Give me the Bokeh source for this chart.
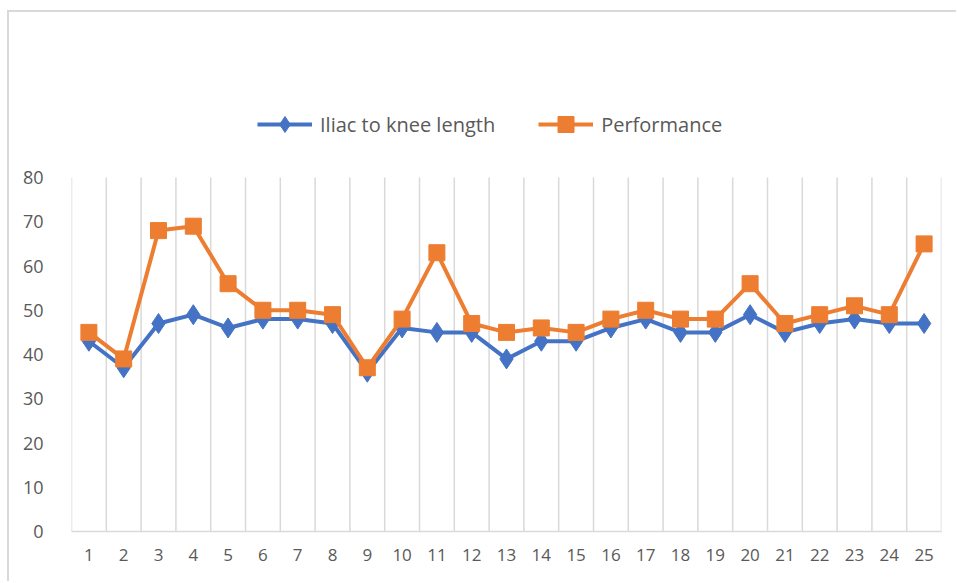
from bokeh.plotting import figure
from bokeh.models import Legend, LegendItem, FixedTicker, Range1d
from bokeh.embed import file_html
from bokeh.resources import INLINE

categories = list(range(1, 26))
tick_labels = [str(c) for c in categories]
iliac = [43, 37, 47, 49, 46, 48, 48, 47, 36, 46, 45, 45, 39, 43, 43, 46, 48, 45, 45, 49, 45, 47, 48, 47, 47]
performance = [45, 39, 68, 69, 56, 50, 50, 49, 37, 48, 63, 47, 45, 46, 45, 48, 50, 48, 48, 56, 47, 49, 51, 49, 65]
y_ticks = [0, 10, 20, 30, 40, 50, 60, 70, 80]

BLUE = "#4472C4"
ORANGE = "#ED7D31"
GREY_TXT = "#595959"
GRID = "#d9d9d9"
FONT = "Open Sans"

Y_MAX = y_ticks[-1]
# frame spans 519 px; value axis 0..80 occupies 354 px of it, legend lives above
y_top = Y_MAX * 519 / 354

p = figure(width=949, height=571, output_backend="svg", toolbar_location=None,
           x_range=Range1d(0.5, 25.5), y_range=Range1d(0, y_top),
           min_border_left=62, min_border_right=17, min_border_top=0, min_border_bottom=52)
p.outline_line_color = None
p.background_fill_color = "white"
p.border_fill_color = "white"

# grids: vertical only at category boundaries, from 0 up to the top value tick
p.ygrid.grid_line_color = None
p.xgrid.grid_line_color = None
bounds = [c - 0.5 for c in categories] + [categories[-1] + 0.5]
p.segment(x0=bounds, y0=[0] * len(bounds), x1=bounds, y1=[Y_MAX] * len(bounds),
          line_color=GRID, line_width=1.5)

# x axis
p.xaxis.ticker = FixedTicker(ticks=categories)
p.xaxis.major_label_overrides = {c: t for c, t in zip(categories, tick_labels)}
p.xaxis.axis_line_color = GRID
p.xaxis.axis_line_width = 1.5
p.xaxis.major_tick_line_color = None
p.xaxis.minor_tick_line_color = None
p.xaxis.major_label_text_font = FONT
p.xaxis.major_label_text_font_size = "17px"
p.xaxis.major_label_text_color = GREY_TXT
p.xaxis.major_label_standoff = 11

# y axis
p.yaxis.ticker = FixedTicker(ticks=y_ticks)
p.yaxis.axis_line_color = None
p.yaxis.major_tick_line_color = None
p.yaxis.minor_tick_line_color = None
p.yaxis.major_label_text_font = FONT
p.yaxis.major_label_text_font_size = "18px"
p.yaxis.major_label_text_color = GREY_TXT
p.yaxis.major_label_standoff = 22

l1 = p.line(categories, iliac, line_color=BLUE, line_width=4)
m1 = p.scatter(categories, iliac, marker="diamond", size=20, fill_color=BLUE, line_color=BLUE)
l2 = p.line(categories, performance, line_color=ORANGE, line_width=4)
m2 = p.scatter(categories, performance, marker="square", size=16, fill_color=ORANGE, line_color=ORANGE)

legend = Legend(items=[LegendItem(label="Iliac to knee length", renderers=[l1, m1]),
                       LegendItem(label="Performance", renderers=[l2, m2])],
                orientation="horizontal", location=(186, 387),
                glyph_width=55, glyph_height=40, spacing=43, padding=2, margin=0,
                label_text_font=FONT, label_text_font_size="20px", label_text_color=GREY_TXT,
                label_standoff=8, border_line_color=None, background_fill_alpha=0)
p.add_layout(legend, "center")

p.styles = {"border-left": "2px solid #d9d9d9", "border-top": "2px solid #d9d9d9",
            "margin-left": "7px", "margin-top": "10px"}

open("out.html", "w").write(file_html(p, INLINE))
